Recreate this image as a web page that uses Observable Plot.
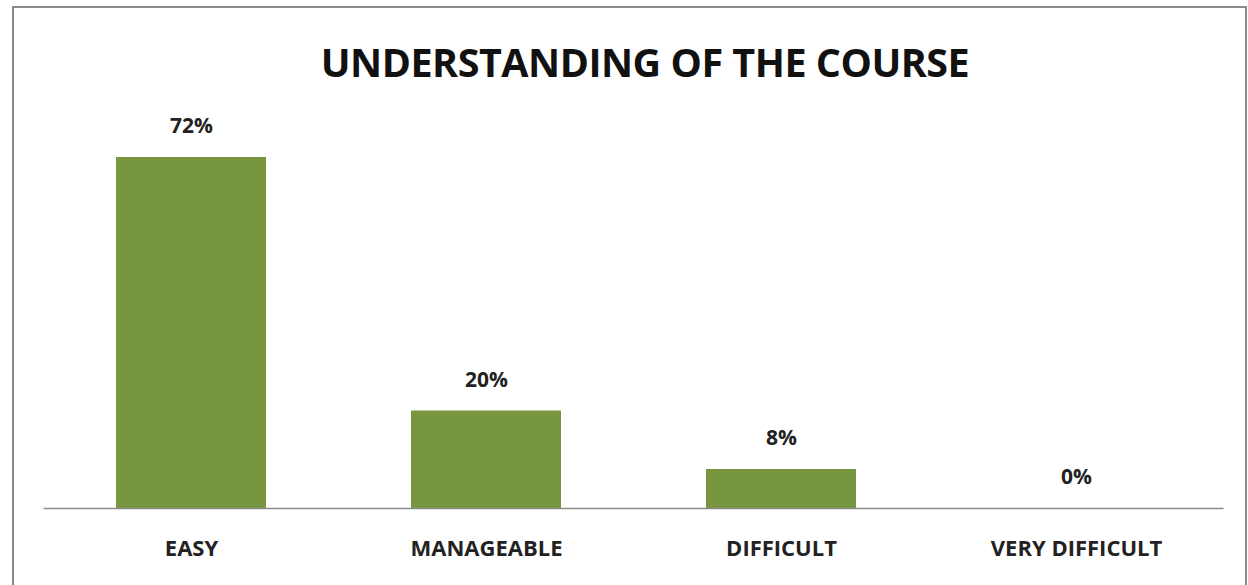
<!DOCTYPE html>
<html>
<head>
<meta charset="utf-8">
<script src="https://cdn.jsdelivr.net/npm/d3@7"></script>
<script src="https://cdn.jsdelivr.net/npm/@observablehq/plot@0.6"></script>
<style>
  html, body { margin: 0; padding: 0; background: #fff; }
  #wrap { position: relative; width: 1248px; height: 585px; overflow: hidden; background: #fff; }
  #frame { position: absolute; left: 12px; top: 6px; width: 1235px; height: 600px; border: 2px solid #8a8a8a; box-sizing: border-box; }
  #title { position: absolute; left: 21px; width: 1248px; top: 36px; text-align: center; font-family: "Open Sans", sans-serif; font-weight: 700; font-size: 39.5px; color: #111; letter-spacing: -0.5px; line-height: 52px; }
  #chart { position: absolute; left: 0; top: 0; }
</style>
</head>
<body>
<div id="wrap">
  <div id="frame"></div>
  <div id="chart"></div>
  <div id="title">UNDERSTANDING OF THE COURSE</div>
</div>
<script>
const categories = ["EASY", "MANAGEABLE", "DIFFICULT", "VERY DIFFICULT"];
const values = [72, 20, 8, 0];
const valueLabels = ["72%", "20%", "8%", "0%"];

const data = categories.map((c, i) => ({category: c, value: values[i], label: valueLabels[i]}));

const chart = Plot.plot({
  width: 1248,
  height: 585,
  marginLeft: 43.5,
  marginRight: 24.5,
  marginTop: 157,
  marginBottom: 77,
  style: {background: "transparent", fontFamily: "'Open Sans', sans-serif", color: "#222"},
  x: {domain: categories, paddingInner: 0.49, paddingOuter: 0.245, label: null},
  y: {domain: [0, 72], axis: null},
  marks: [
    Plot.barY(data, {x: "category", y: "value", fill: "#78963f"}),
    Plot.ruleY([0], {stroke: "#8c8c8c", strokeWidth: 1.5}),
    Plot.text(data, {x: "category", y: "value", text: "label", dy: -31, fontSize: 21, fontWeight: "bold", fill: "#222"}),
    Plot.axisX({tickSize: 0, tickPadding: 32, fontSize: 22, fontWeight: "bold", fill: "#222", label: null})
  ]
});
document.getElementById("chart").appendChild(chart);
</script>
</body>
</html>
